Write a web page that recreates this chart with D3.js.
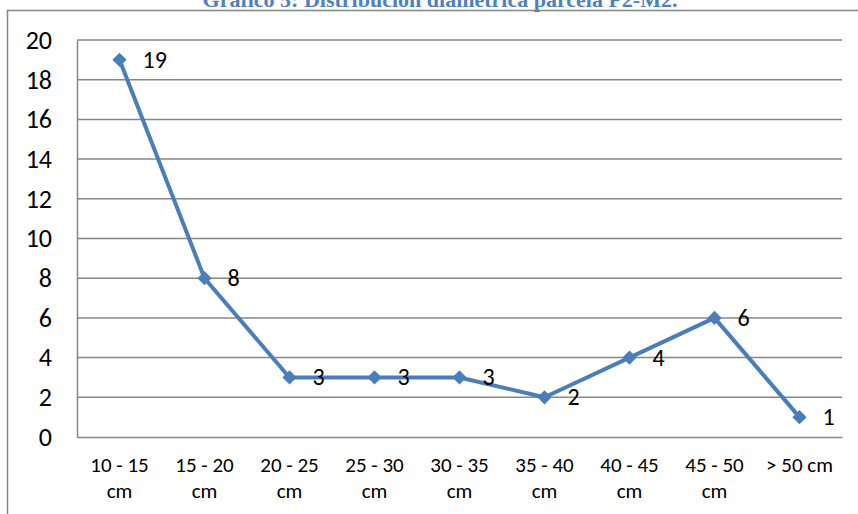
<!DOCTYPE html>
<html>
<head>
<meta charset="utf-8">
<script src="https://cdn.jsdelivr.net/npm/d3@7"></script>
<style>
  html, body { margin: 0; padding: 0; background: #fff; }
  svg { display: block; }
  text { font-family: Carlito, Lato, "Liberation Sans", sans-serif; fill: #000; }
</style>
</head>
<body>
<svg id="chart" width="858" height="514"></svg>
<script>
// Distribución diamétrica: número de árboles por clase de diámetro
const categories = ["10 - 15 cm", "15 - 20 cm", "20 - 25 cm", "25 - 30 cm", "30 - 35 cm",
                    "35 - 40 cm", "40 - 45 cm", "45 - 50 cm", "> 50 cm"];
const categoryLines = [["10 - 15", "cm"], ["15 - 20", "cm"], ["20 - 25", "cm"], ["25 - 30", "cm"],
                       ["30 - 35", "cm"], ["35 - 40", "cm"], ["40 - 45", "cm"], ["45 - 50", "cm"], ["> 50 cm"]];
const counts = [19, 8, 3, 3, 3, 2, 4, 6, 1];
const yTicks = [0, 2, 4, 6, 8, 10, 12, 14, 16, 18, 20];
const title = "Gráfico 5: Distribución diamétrica parcela P2-M2.";

const svg = d3.select("#chart");
const plot = { left: 77, right: 842, top: 40, bottom: 437 };

const x = d3.scaleBand().domain(categories).range([plot.left, plot.right]);
const y = d3.scaleLinear().domain([0, 20]).range([plot.bottom, plot.top]);

// outer chart frame
svg.append("rect")
  .attr("x", 7.5).attr("y", 10.5)
  .attr("width", 860).attr("height", 520)
  .attr("fill", "none").attr("stroke", "#868686").attr("stroke-width", 1.5);

// title (in the frame's top margin)
svg.append("text")
  .attr("x", 440).attr("y", 7)
  .attr("text-anchor", "middle")
  .style("font-family", "'Liberation Serif', 'DejaVu Serif', serif")
  .style("font-weight", "bold")
  .style("font-size", "22px")
  .style("fill", "#4F81BD")
  .text(title);

// horizontal gridlines
svg.append("g")
  .selectAll("line")
  .data(yTicks.filter(d => d > 0))
  .join("line")
  .attr("x1", plot.left).attr("x2", plot.right)
  .attr("y1", d => y(d)).attr("y2", d => y(d))
  .attr("stroke", "#868686").attr("stroke-width", 1.5);

// y axis
const yAxis = svg.append("g")
  .attr("transform", `translate(${plot.left},0)`)
  .call(d3.axisLeft(y).tickValues(yTicks).tickSize(0).tickPadding(25));
yAxis.select(".domain").attr("stroke", "#868686").attr("stroke-width", 1.5);
yAxis.selectAll("text").style("font-size", "26px").style("font-family", "Carlito, Lato, sans-serif");

// x axis
const xAxis = svg.append("g")
  .attr("transform", `translate(0,${plot.bottom})`)
  .call(d3.axisBottom(x).tickSize(0).tickFormat(""));
xAxis.select(".domain").attr("stroke", "#868686").attr("stroke-width", 1.5);

const catLabels = svg.append("g")
  .selectAll("text")
  .data(categories)
  .join("text")
  .attr("x", d => x(d) + x.bandwidth() / 2)
  .attr("y", 472)
  .attr("text-anchor", "middle")
  .style("font-size", "21px");
catLabels.each(function(d, i) {
  d3.select(this).selectAll("tspan")
    .data(categoryLines[i])
    .join("tspan")
    .attr("x", x(d) + x.bandwidth() / 2)
    .attr("dy", (t, j) => j === 0 ? 0 : 25.5)
    .text(t => t);
});

// data line
const cx = d => x(d) + x.bandwidth() / 2;
const line = d3.line()
  .x((d, i) => cx(categories[i]))
  .y(d => y(d));

svg.append("path")
  .datum(counts)
  .attr("d", line)
  .attr("fill", "none")
  .attr("stroke", "#4A7EBB")
  .attr("stroke-width", 4)
  .attr("stroke-linejoin", "round");

// diamond markers
svg.append("g")
  .selectAll("path")
  .data(counts)
  .join("path")
  .attr("d", d3.symbol(d3.symbolDiamond2, 130))
  .attr("transform", (d, i) => `translate(${cx(categories[i])},${y(d)})`)
  .attr("fill", "#4A7EBB");

// data labels, to the right of each point
svg.append("g")
  .selectAll("text")
  .data(counts)
  .join("text")
  .attr("x", (d, i) => cx(categories[i]) + 23)
  .attr("y", d => y(d))
  .attr("dy", "0.33em")
  .style("font-size", "24px")
  .text(d => d);
</script>
</body>
</html>
